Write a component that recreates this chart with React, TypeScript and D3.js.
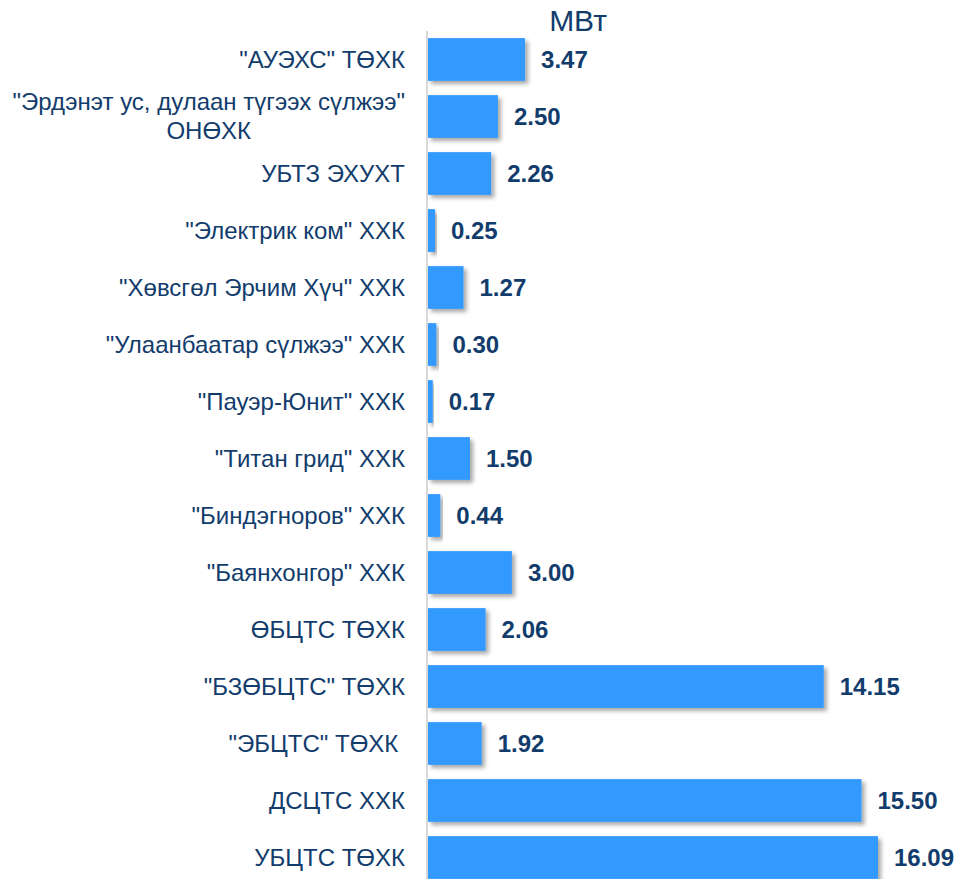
import React, { useEffect, useRef } from "react";
import * as d3 from "d3";

const categories: string[][] = [
  ['"АУЭХС" ТӨХК'],
  ['"Эрдэнэт ус, дулаан түгээх сүлжээ"', "ОНӨХК"],
  ["УБТЗ ЭХУХТ"],
  ['"Электрик ком" ХХК'],
  ['"Хөвсгөл Эрчим Хүч" ХХК'],
  ['"Улаанбаатар сүлжээ" ХХК'],
  ['"Пауэр-Юнит" ХХК'],
  ['"Титан грид" ХХК'],
  ['"Биндэгноров" ХХК'],
  ['"Баянхонгор" ХХК'],
  ["ӨБЦТС ТӨХК"],
  ['"БЗӨБЦТС" ТӨХК'],
  ['"ЭБЦТС" ТӨХК '],
  ["ДСЦТС ХХК"],
  ["УБЦТС ТӨХК"],
];
const values: number[] = [3.47, 2.5, 2.26, 0.25, 1.27, 0.3, 0.17, 1.5, 0.44, 3.0, 2.06, 14.15, 1.92, 15.5, 16.09];
const unitLabel = "МВт";

export default function App() {
  const ref = useRef<SVGSVGElement>(null);
  useEffect(() => {
    const svg = d3.select(ref.current);
    svg.selectAll("*").remove();
    const H = 879;
    const x0 = 428;
    const navy = "#123C6C";
    const font = "Arial, 'Liberation Sans', sans-serif";
    const x = d3.scaleLinear().domain([0, 16.09]).range([x0, 878]);
    const idx = d3.range(categories.length);
    const y = d3.scaleBand<number>().domain(idx).range([31, 31 + 57 * 15]).paddingInner(0.25).paddingOuter(0.125);

    const defs = svg.append("defs");
    const f = defs.append("filter").attr("id", "sh").attr("x", "-10%").attr("y", "-20%").attr("width", "130%").attr("height", "160%");
    f.append("feDropShadow").attr("dx", 3).attr("dy", 3).attr("stdDeviation", 2).attr("flood-color", "#000").attr("flood-opacity", 0.35);

    svg.append("line").attr("x1", x0 - 1).attr("x2", x0 - 1).attr("y1", 31).attr("y2", H).attr("stroke", "#D9D9D9").attr("stroke-width", 2);

    svg.append("g").selectAll("rect").data(idx).join("rect")
      .attr("x", x0).attr("y", (i) => y(i)!).attr("height", y.bandwidth())
      .attr("width", (i) => x(values[i]) - x0).attr("fill", "#3399FF").attr("filter", "url(#sh)");

    svg.append("g").selectAll("text").data(idx).join("text")
      .attr("x", (i) => x(values[i]) + 16).attr("y", (i) => y(i)! + y.bandwidth() / 2 + 8.5)
      .attr("font-family", font).attr("font-weight", "bold").attr("font-size", 24)
      .attr("fill", navy).text((i) => values[i].toFixed(2));

    const lab = svg.append("g").attr("font-family", font).attr("font-size", 24).attr("fill", navy);
    idx.forEach((i) => {
      const lines = categories[i];
      const cy = y(i)! + y.bandwidth() / 2;
      if (lines.length === 1) {
        lab.append("text").attr("x", 405).attr("y", cy + 8.5).attr("text-anchor", "end").style("white-space", "pre").text(lines[0]);
      } else {
        const t1 = lab.append("text").attr("x", 405).attr("y", cy - 7).attr("text-anchor", "end").text(lines[0]);
        const w = (t1.node() as SVGTextElement).getComputedTextLength();
        lab.append("text").attr("x", 405 - w / 2).attr("y", cy + 22).attr("text-anchor", "middle").text(lines[1]);
      }
    });

    svg.append("text").attr("x", 578).attr("y", 31).attr("text-anchor", "middle")
      .attr("font-family", font).attr("font-size", 30).attr("fill", navy).text(unitLabel);
  }, []);
  return (
    <svg ref={ref} width={956} height={879} style={{ position: "absolute", left: 0, top: 0, background: "#fff" }} />
  );
}
